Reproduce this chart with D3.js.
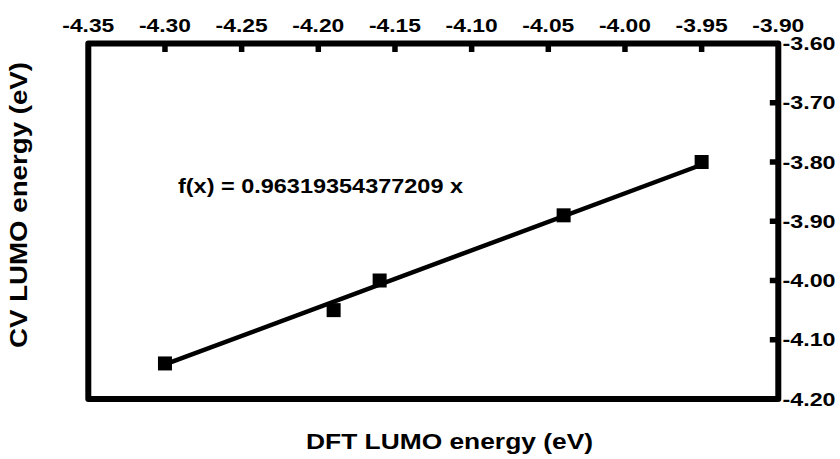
<!DOCTYPE html>
<html>
<head>
<meta charset="utf-8">
<script src="https://cdn.jsdelivr.net/npm/d3@7"></script>
<style>
  body { margin: 0; background: #fff; }
  svg { display: block; }
  text { font-family: "Liberation Sans", Arial, sans-serif; font-weight: bold; fill: #000; }
</style>
</head>
<body>
<svg id="chart" width="840" height="459"></svg>
<script>
/** Measured points: DFT LUMO (x) vs CV LUMO (y) */
var dftLumo = [-4.30, -4.19, -4.16, -4.04, -3.95];
var cvLumo = [-4.14, -4.05, -4.00, -3.89, -3.80];

/** Fit through origin */
var slope = 0.96319354377209;
var fitLabel = 'f(x) = 0.96319354377209 x';

/** Tick values for both axes */
var xTicks = [-4.35, -4.30, -4.25, -4.20, -4.15, -4.10, -4.05, -4.00, -3.95, -3.90];
var yTicks = [-3.60, -3.70, -3.80, -3.90, -4.00, -4.10, -4.20];

var xTitle = 'DFT LUMO energy (eV)',
    yTitle = 'CV LUMO energy (eV)';

/** Frame geometry (window.top is reserved, so prefix the names) */
var frameLeft = 88.3, frameRight = 778.3, frameTop = 43.5, frameBottom = 399;

var svg = d3.select('#chart');

var x = d3.scaleLinear().domain([-4.35, -3.90]).range([frameLeft, frameRight]);
var y = d3.scaleLinear().domain([-3.60, -4.20]).range([frameTop, frameBottom]);

// tick marks pointing inward, drawn first so the frame covers the joins
svg.selectAll('line.xtick')
    .data(xTicks.slice(1, -1))
    .enter()
    .append('line')
    .attr('x1', function(d) { return x(d); })
    .attr('x2', function(d) { return x(d); })
    .attr('y1', frameTop)
    .attr('y2', frameTop + 8.5)
    .attr('stroke', '#000')
    .attr('stroke-width', 5.5);

svg.selectAll('line.ytick')
    .data(yTicks.slice(1, -1))
    .enter()
    .append('line')
    .attr('x1', frameRight)
    .attr('x2', frameRight - 8.5)
    .attr('y1', function(d) { return y(d); })
    .attr('y2', function(d) { return y(d); })
    .attr('stroke', '#000')
    .attr('stroke-width', 5.5);

// plot frame
svg.append('rect')
    .attr('x', frameLeft)
    .attr('y', frameTop)
    .attr('width', frameRight - frameLeft)
    .attr('height', frameBottom - frameTop)
    .attr('fill', 'none')
    .attr('stroke', '#000')
    .attr('stroke-width', 6)
    .attr('stroke-linejoin', 'round');

// top tick labels
svg.selectAll('text.xlab')
    .data(xTicks)
    .enter()
    .append('text')
    .attr('x', function(d) { return x(d); })
    .attr('y', 32.3)
    .attr('text-anchor', 'middle')
    .attr('font-size', 18)
    .attr('textLength', 52)
    .attr('lengthAdjust', 'spacingAndGlyphs')
    .text(function(d) { return d.toFixed(2); });

// right tick labels
svg.selectAll('text.ylab')
    .data(yTicks)
    .enter()
    .append('text')
    .attr('x', 782.5)
    .attr('y', function(d) { return y(d) + 6.5; })
    .attr('font-size', 18)
    .attr('textLength', 53)
    .attr('lengthAdjust', 'spacingAndGlyphs')
    .text(function(d) { return d.toFixed(2); });

// regression line over the data range
var xExtent = d3.extent(dftLumo);
svg.append('line')
    .attr('x1', x(xExtent[0]))
    .attr('y1', y(slope * xExtent[0]))
    .attr('x2', x(xExtent[1]))
    .attr('y2', y(slope * xExtent[1]))
    .attr('stroke', '#000')
    .attr('stroke-width', 4.5);

// square markers
var markerSize = 14;
svg.selectAll('rect.pt')
    .data(d3.zip(dftLumo, cvLumo))
    .enter()
    .append('rect')
    .attr('x', function(d) { return x(d[0]) - markerSize / 2; })
    .attr('y', function(d) { return y(d[1]) - markerSize / 2; })
    .attr('width', markerSize)
    .attr('height', markerSize)
    .attr('fill', '#000');

// fit equation
svg.append('text')
    .attr('x', 178)
    .attr('y', 193)
    .attr('font-size', 21)
    .attr('textLength', 285)
    .attr('lengthAdjust', 'spacingAndGlyphs')
    .text(fitLabel);

// axis titles
svg.append('text')
    .attr('x', 449.5)
    .attr('y', 449)
    .attr('text-anchor', 'middle')
    .attr('font-size', 22)
    .attr('textLength', 287)
    .attr('lengthAdjust', 'spacingAndGlyphs')
    .text(xTitle);

svg.append('text')
    .attr('transform', 'translate(27,205) rotate(-90)')
    .attr('text-anchor', 'middle')
    .attr('font-size', 23)
    .attr('textLength', 286)
    .attr('lengthAdjust', 'spacingAndGlyphs')
    .text(yTitle);
</script>
</body>
</html>
